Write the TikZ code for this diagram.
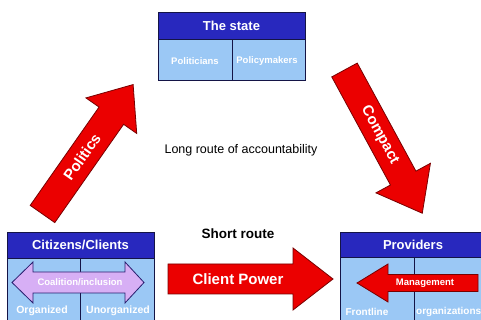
\documentclass[tikz,border=0pt]{standalone}
\usepackage{fontspec}
\setmainfont{Liberation Sans}
\definecolor{hdr}{RGB}{40,40,190}
\definecolor{cell}{RGB}{155,200,245}
\definecolor{edge}{RGB}{20,20,70}
\definecolor{arrred}{RGB}{235,0,0}
\definecolor{arredge}{RGB}{120,0,0}
\definecolor{lav}{RGB}{215,175,245}
\definecolor{lavedge}{RGB}{40,30,110}
\tikzset{
  hdrbox/.style={draw=edge, fill=hdr, line width=0.8pt, inner sep=0pt, text=white,
    font=\bfseries\fontsize{13}{13}\selectfont},
  cellbox/.style={draw=edge, fill=cell, line width=0.8pt, inner sep=0pt},
  celltext/.style={text=white, inner sep=0pt, font=\bfseries\fontsize{9.5}{9.5}\selectfont},
  redarrow/.style={fill=arrred, draw=arredge, line width=0.8pt},
  arrtext/.style={text=white, inner sep=0pt, font=\bfseries\fontsize{15}{15}\selectfont},
  pics/barrow/.style n args={4}{code={
    \path[redarrow] (0,-#2) -- (#1-#4,-#2) -- (#1-#4,-#3) -- (#1,0) -- (#1-#4,#3)
      -- (#1-#4,#2) -- (0,#2) -- cycle;}},
}
\begin{document}
\begin{tikzpicture}[x=1pt,y=1pt]
\clip (0,0) rectangle (481,320);
\fill[white] (0,0) rectangle (481,320);

% The state
\node[hdrbox, minimum width=147pt, minimum height=27pt] (stateH) at (231.5,294.5) {The state};
\node[cellbox, minimum width=74pt, minimum height=41pt] (stateL) at (195,260.5) {};
\node[cellbox, minimum width=73pt, minimum height=41pt] (stateR) at (268.5,260.5) {};
\node[celltext] (politicians) at (195,259) {Politicians};
\node[celltext] (policymakers) at (267,259) {Policymakers};

% Citizens/Clients
\node[hdrbox, minimum width=147pt, minimum height=26pt] (citH) at (80.5,75) {Citizens/Clients};
\node[cellbox, minimum width=73pt, minimum height=72pt] (citL) at (43.5,26) {};
\node[cellbox, minimum width=74pt, minimum height=72pt] (citR) at (117,26) {};
\node[celltext, font=\bfseries\fontsize{10.5}{10.5}\selectfont] (organized) at (42,9) {Organized};
\node[celltext, font=\bfseries\fontsize{10.5}{10.5}\selectfont] (unorganized) at (118,9) {Unorganized};

% Providers
\node[hdrbox, minimum width=146pt, minimum height=25pt] (provH) at (413,75.5) {Providers};
\node[cellbox, minimum width=74pt, minimum height=72pt] (provL) at (377,27) {};
\node[cellbox, minimum width=72pt, minimum height=72pt] (provR) at (450,27) {};
\node[celltext, font=\bfseries\fontsize{10}{10}\selectfont] (frontline) at (367,8) {Frontline};
\node[celltext, font=\bfseries\fontsize{10}{10}\selectfont, anchor=west] (orgs) at (416,8) {organizations};

% Coalition double arrow
\path[fill=lav, draw=lavedge, line width=0.8pt] (12,37.5) -- (33,58) -- (33,48) -- (125,48)
  -- (125,58) -- (144,37.5) -- (125,17) -- (125,27) -- (33,27) -- (33,17) -- cycle;
\node[celltext] (coalition) at (80,37.5) {Coalition/inclusion};

% Management arrow
\pic[rotate=180] at (478,37) {barrow={121}{8.5}{19}{31}};
\node[celltext, font=\bfseries\fontsize{9.5}{9.5}\selectfont] (management) at (425,37) {Management};

% Politics
\pic[rotate=55] at (42.5,106) {barrow={158}{15}{31}{38}};
\node[arrtext, rotate=55] (politics) at (82,163) {Politics};

% Compact
\pic[rotate=-61.5] at (344.5,250) {barrow={163}{14.5}{31}{40}};
\node[arrtext, rotate=-61.5] (compact) at (379.8,185) {Compact};

% Client Power
\pic at (168,41) {barrow={165}{15}{31}{40}};
\node[arrtext] (clientpower) at (238,41) {Client Power};

% Labels
\node[inner sep=0pt, font=\fontsize{12.5}{12.5}\selectfont] (longroute) at (241,170) {Long route of accountability};
\node[inner sep=0pt, font=\bfseries\fontsize{13.5}{13.5}\selectfont] (shortroute) at (238,86) {Short route};
\end{tikzpicture}
\end{document}
